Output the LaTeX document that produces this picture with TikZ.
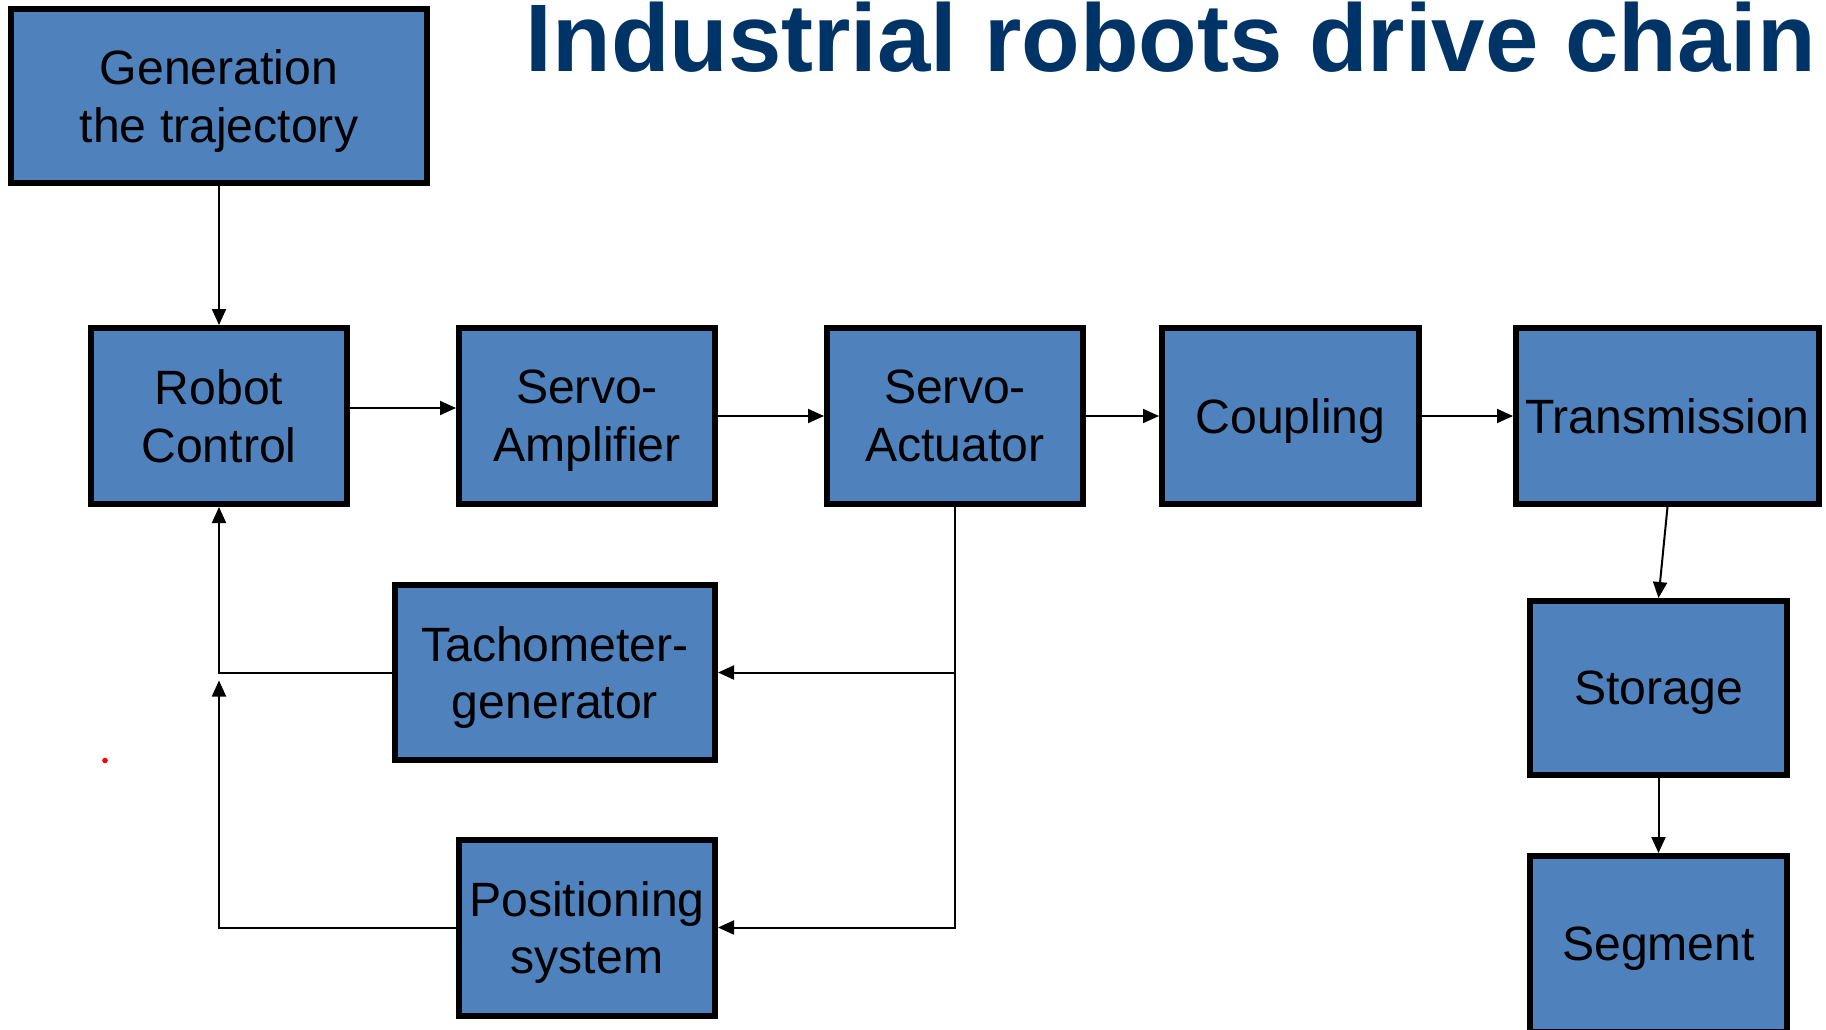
\documentclass[tikz,border=0pt]{standalone}
\usepackage{fontspec}
\setmainfont{Liberation Sans}
\usepackage{xcolor}
\usepackage{tikz}
\usetikzlibrary{positioning,arrows.meta}
\definecolor{boxfill}{HTML}{4F81BD}
\definecolor{titlenavy}{HTML}{003366}

\begin{document}
\begin{tikzpicture}[
        node distance=3.68cm,
        block/.style={
            rectangle,
            draw=black,
            line width=0.06cm,
            fill=boxfill,
            text=black,
            align=center,
            inner sep=0pt,
            text depth=0pt,
            minimum width=2.56cm,
            minimum height=1.76cm,
            font=\fontsize{13.7pt}{16.4pt}\selectfont
        },
        arrow/.style={
            ->,
            >={Triangle[length=0.16cm,width=0.14cm]},
            line width=0.02cm,
            color=black
        },
        heading/.style={
            anchor=base west,
            inner sep=0pt,
            text=titlenavy,
            font=\fontsize{27.3pt}{32pt}\selectfont\bfseries
        }
    ]
        \useasboundingbox (0,0) rectangle (18.26,-10.30);

        \node[heading] (title) at (5.25,-0.715) {Industrial robots drive chain};

        \node[block, minimum width=4.16cm, minimum height=1.74cm] (gen) at (2.19,-0.96) {Generation\\the trajectory};
        \node[block] (ctrl) [below of=gen, node distance=3.2cm] {Robot\\Control};
        \node[block] (amp) [right of=ctrl] {Servo-\\Amplifier};
        \node[block] (act) [right of=amp] {Servo-\\Actuator};
        \node[block, minimum width=2.57cm] (coup) [right of=act, node distance=3.355cm] {Coupling};
        \node[block, minimum width=3.03cm] (trans) [right of=coup, node distance=3.77cm] {Transmission};
        \node[block, minimum width=3.20cm, minimum height=1.75cm] (tacho) [below of=amp, node distance=2.565cm, xshift=-0.32cm] {Tachometer-\\generator};
        \node[block] (pos) [below of=amp, node distance=5.115cm] {Positioning\\system};
        \node[block, minimum width=2.57cm, minimum height=1.74cm] (store) [below of=trans, node distance=2.72cm, xshift=-0.09cm] {Storage};
        \node[block, minimum width=2.57cm] (seg) [below of=store, node distance=2.56cm] {Segment};

        \coordinate (fbin) at (ctrl.south |- tacho.west);
        \coordinate (tap) at (act.south |- tacho.east);

        % forward chain
        \draw[arrow] (gen) -- (ctrl);
        \draw[arrow] ([yshift=0.08cm]ctrl.east) -- ([yshift=0.08cm]amp.west);
        \draw[arrow] (amp) -- (act);
        \draw[arrow] (act) -- (coup);
        \draw[arrow] (coup) -- (trans);
        \draw[arrow] (trans.south) -- (store.north);
        \draw[arrow] (store) -- (seg);

        % feedback loops
        \draw[arrow] (act.south) |- (pos.east);
        \draw[arrow] (tap) -- (tacho.east);
        \draw[arrow] (tacho.west) -| (ctrl.south);
        \draw[arrow] (pos.west) -| ([yshift=-0.08cm]fbin);

        \fill[red] (1.05,-7.605) circle (0.028);
    \end{tikzpicture}
\end{document}
